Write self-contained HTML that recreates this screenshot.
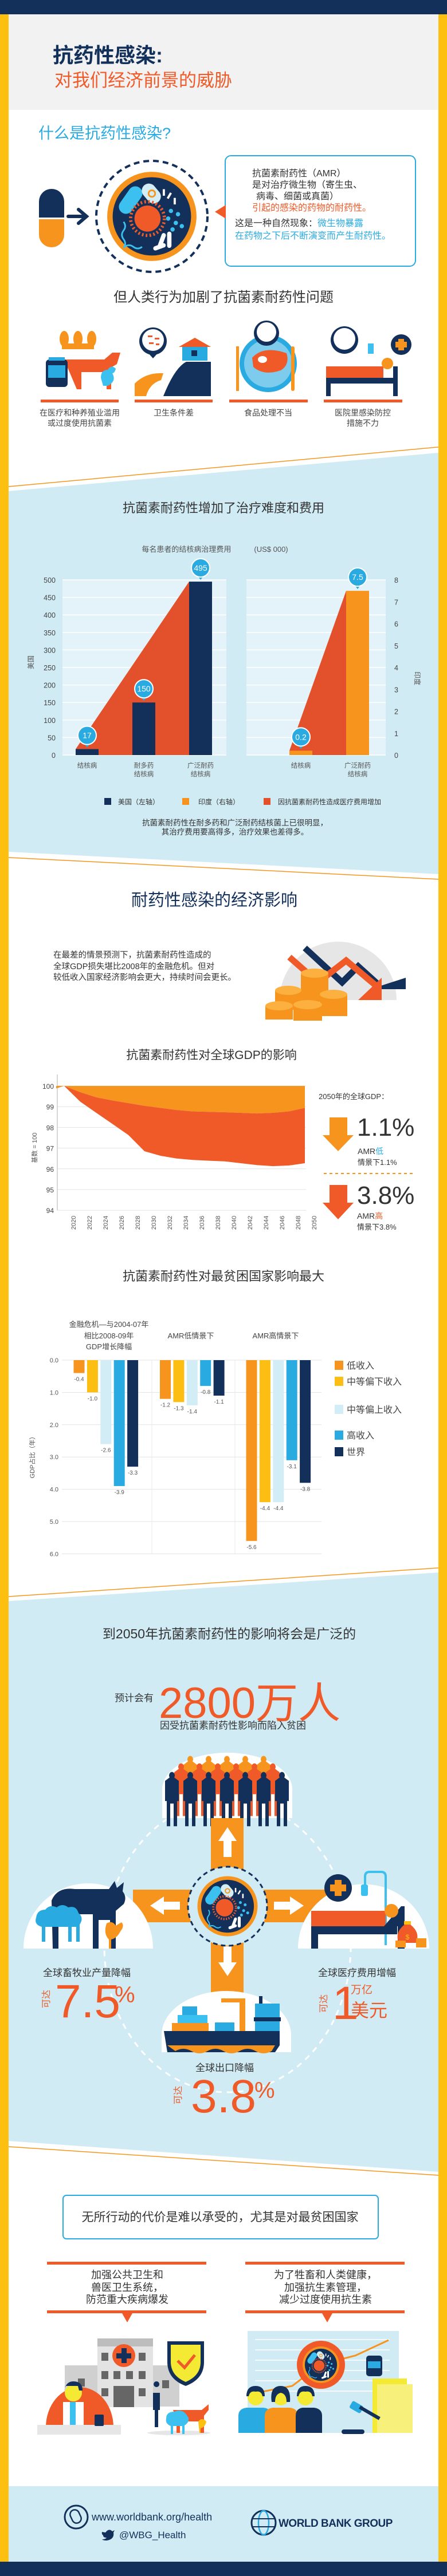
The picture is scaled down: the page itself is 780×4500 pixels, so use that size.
<!DOCTYPE html>
<html lang="zh">
<head>
<meta charset="utf-8">
<title>抗药性感染：对我们经济前景的威胁</title>
<style>
  html,body{margin:0;padding:0;background:#fff;}
  body{width:780px;height:4500px;overflow:hidden;}
  svg{display:block;font-family:"Liberation Sans","Noto Sans CJK SC",sans-serif;}
  .t{font-family:"Liberation Sans","Noto Sans CJK SC",sans-serif;}
</style>
</head>
<body>
<svg id="page" width="780" height="4500" viewBox="0 0 780 4500" xmlns="http://www.w3.org/2000/svg">
<defs>
  <symbol id="microbe" viewBox="-100 -100 200 200">
    <circle r="82" fill="#f7941d"/>
    <circle r="72" fill="#13305a"/>
    <rect x="-52" y="-58" width="26" height="56" rx="13" fill="#3cc0ef" transform="rotate(35 -39 -30)"/>
    <rect x="-14" y="-62" width="26" height="40" rx="13" fill="#d2edf5" transform="rotate(-40 -1 -42)"/>
    <circle cx="0" cy="-42" r="6" fill="none" stroke="#f7941d" stroke-width="3"/>
    <circle cx="-8" cy="4" r="24" fill="#f05a28"/>
    <circle cx="-8" cy="4" r="31" fill="none" stroke="#f05a28" stroke-width="6" stroke-dasharray="3 4"/>
    <g fill="#3cc0ef"><circle cx="35" cy="-10" r="4"/><circle cx="48" cy="-4" r="4"/><circle cx="30" cy="4" r="4"/><circle cx="44" cy="12" r="4"/><circle cx="55" cy="18" r="4"/><circle cx="38" cy="24" r="4"/></g>
    <g fill="#fff"><rect x="14" y="30" width="8" height="30" rx="4" transform="rotate(20 18 45)"/><rect x="28" y="28" width="8" height="30" rx="4"/><rect x="2" y="52" width="24" height="8" rx="4" transform="rotate(-20 14 56)"/><rect x="20" y="-50" width="4" height="12"/><rect x="30" y="-44" width="4" height="12" transform="rotate(30 32 -38)"/><rect x="40" y="-34" width="4" height="12"/></g>
    <path d="M-52 10 q6 8 0 16 q-6 8 0 16 q6 8 0 16" fill="none" stroke="#3cc0ef" stroke-width="3"/>
    <path d="M-50 56 q8 -6 16 0 q8 6 16 0" fill="none" stroke="#3cc0ef" stroke-width="3"/>
  </symbol>
</defs>

<!-- frame -->
<rect x="0" y="0" width="780" height="4500" fill="#ffffff"/>
<rect x="0" y="0" width="15" height="4500" fill="#fdc010"/>
<rect x="765" y="0" width="15" height="4500" fill="#fdc010"/>
<rect x="0" y="0" width="780" height="25" fill="#13305a"/>
<rect x="15" y="25" width="750" height="167" fill="#f2f2f2"/>

<!-- light blue sections -->
<polygon points="15,858 765,791 765,1527 15,1488" fill="#d0ebf4"/>
<line x1="15" y1="850" x2="765" y2="781" stroke="#f7941d" stroke-width="1.5"/>
<line x1="15" y1="1498" x2="765" y2="1536" stroke="#f7941d" stroke-width="1.5"/>
<polygon points="15,2797 765,2747 765,3794 15,3740" fill="#d0ebf4"/>
<line x1="15" y1="2789" x2="765" y2="2739" stroke="#f7941d" stroke-width="1.5"/>
<line x1="15" y1="3750" x2="765" y2="3800" stroke="#f7941d" stroke-width="1.5"/>
<rect x="15" y="4343" width="750" height="132" fill="#d0ebf4"/>
<rect x="0" y="4475" width="780" height="25" fill="#13305a"/>

<!-- header -->
<text x="92" y="109" font-size="36" font-weight="bold" fill="#13305a">抗药性感染:</text>
<text x="95" y="151" font-size="31" fill="#f05a28">对我们经济前景的威胁</text>

<text x="67" y="242" font-size="27" fill="#29abe2">什么是抗药性感染?</text>

<!-- pill + arrow + microbe -->
<g>
  <path d="M68,352 a22,22 0 0 1 44,0 V380 H68 Z" fill="#13305a"/>
  <path d="M68,383 H112 V410 a22,22 0 0 1 -44,0 Z" fill="#f7941d"/>
</g>
<g stroke="#13305a" stroke-width="6" fill="none" stroke-linecap="round">
  <line x1="119" y1="378" x2="148" y2="378"/><polyline points="137,366 151,378 137,390"/>
</g>
<circle cx="265" cy="378" r="97" fill="none" stroke="#13305a" stroke-width="4" stroke-dasharray="10 7"/>
<use href="#microbe" x="170" y="283" width="190" height="190"/>

<g>
  <rect x="393" y="272" width="332" height="193" rx="10" fill="#fff" stroke="#29abe2" stroke-width="2"/>
  <polygon points="375,370 394,358 394,382" fill="#f05a28"/>
  <text x="440" y="308" font-size="16" fill="#333">抗菌素耐药性（AMR）</text>
  <text x="440" y="328" font-size="16" fill="#333">是对治疗微生物（寄生虫、</text>
  <text x="447" y="348" font-size="16" fill="#333">病毒、细菌或真菌）</text>
  <text x="440" y="368" font-size="16" fill="#f05a28">引起的感染的药物的耐药性。</text>
  <text x="410" y="395" font-size="16" fill="#333">这是一种自然现象：<tspan fill="#29abe2">微生物暴露</tspan></text>
  <text x="410" y="417" font-size="16" fill="#29abe2">在药物之下后不断演变而产生耐药性。</text>
</g>

<text x="390" y="527" font-size="24" fill="#333" text-anchor="middle">但人类行为加剧了抗菌素耐药性问题</text>

<!-- four cause icons -->
<g>
  <g fill="#f7941d"><ellipse cx="112" cy="592" rx="8" ry="14"/><ellipse cx="136" cy="592" rx="8" ry="14"/><ellipse cx="160" cy="592" rx="8" ry="14"/><rect x="108" y="600" width="56" height="10"/></g>
  <path d="M112,628 h70 l14,-12 h14 l-6,20 l-10,6 v38 h-8 v-30 h-44 v30 h-8 z" fill="#f05a28"/>
  <rect x="80" y="628" width="38" height="48" rx="6" fill="#13305a"/><rect x="84" y="638" width="30" height="22" fill="#29abe2"/><rect x="85" y="624" width="28" height="6" fill="#29abe2"/>
  <path d="M176,660 q0,-14 12,-14 q6,-10 14,-2 q-2,8 -6,8 q8,14 -8,22 h-8 z" fill="#3cc0ef"/>
</g>
<g>
  <circle cx="267" cy="596" r="24" fill="#13305a"/><circle cx="267" cy="594" r="19" fill="#fff"/><polygon points="258,616 276,616 267,626" fill="#13305a"/>
  <g fill="#f05a28"><rect x="258" y="586" width="8" height="3"/><rect x="270" y="590" width="8" height="3"/><rect x="260" y="598" width="8" height="3"/><rect x="272" y="600" width="6" height="3"/></g>
  <polygon points="340,590 368,606 312,606" fill="#f05a28"/><rect x="318" y="606" width="44" height="24" fill="#29abe2"/><rect x="334" y="612" width="10" height="10" fill="#13305a"/>
  <path d="M285,692 q20,-50 40,-60 l43,0 v60 z" fill="#13305a"/>
  <path d="M235,692 v-22 q20,-20 50,-18 l-4,12 q-20,6 -26,28 z" fill="#f7941d"/>
</g>
<g>
  <circle cx="468" cy="635" r="50" fill="#29abe2"/><circle cx="468" cy="635" r="42" fill="#fff" opacity="0.4"/>
  <path d="M440,625 q20,-22 60,-8 q6,20 -10,30 q-30,10 -48,-6 z" fill="#f05a28"/><ellipse cx="458" cy="628" rx="8" ry="6" fill="#fff"/>
  <rect x="412" y="605" width="5" height="78" fill="#f7941d"/><rect x="508" y="605" width="6" height="78" rx="3" fill="#f7941d"/>
  <circle cx="465" cy="582" r="22" fill="#13305a"/><circle cx="465" cy="580" r="17" fill="#fff"/>
</g>
<g>
  <circle cx="601" cy="594" r="24" fill="#13305a"/><circle cx="601" cy="592" r="19" fill="#fff"/>
  <rect x="569" y="640" width="100" height="20" fill="#f05a28"/><rect x="569" y="660" width="125" height="10" fill="#13305a"/><rect x="569" y="660" width="8" height="32" fill="#13305a"/><rect x="686" y="640" width="8" height="52" fill="#13305a"/>
  <circle cx="676" cy="635" r="10" fill="#f7941d"/><rect x="642" y="600" width="10" height="18" fill="#3cc0ef"/>
  <circle cx="700" cy="602" r="18" fill="#13305a"/><rect x="695" y="592" width="10" height="20" fill="#f7941d"/><rect x="690" y="597" width="20" height="10" fill="#f7941d"/>
</g>
<g fill="#f05a28">
  <rect x="71" y="698" width="136" height="5"/><rect x="235" y="698" width="136" height="5"/><rect x="400" y="698" width="137" height="5"/><rect x="565" y="698" width="137" height="5"/>
</g>
<g font-size="14" fill="#444" text-anchor="middle">
  <text x="139" y="726">在医疗和种养殖业滥用</text><text x="139" y="744">或过度使用抗菌素</text>
  <text x="303" y="726">卫生条件差</text>
  <text x="468" y="726">食品处理不当</text>
  <text x="633" y="726">医院里感染防控</text><text x="633" y="744">措施不力</text>
</g>

<!-- TB cost chart -->
<text x="390" y="895" font-size="22" fill="#333" text-anchor="middle">抗菌素耐药性增加了治疗难度和费用</text>
<text x="375" y="964" font-size="13" fill="#555" text-anchor="middle">每名患者的结核病治理费用<tspan dx="40">(US$ 000)</tspan></text>
<g id="costChart"></g>
<text x="58" y="1157" font-size="12" fill="#555" text-anchor="middle" transform="rotate(-90 58 1157)">美国</text>
<text x="724" y="1185" font-size="12" fill="#555" text-anchor="middle" transform="rotate(90 724 1185)">印度</text>
<g font-size="12" fill="#333">
  <rect x="182" y="1394" width="12" height="12" fill="#13305a"/><text x="206" y="1405">美国（左轴）</text>
  <rect x="318" y="1394" width="12" height="12" fill="#f7941d"/><text x="346" y="1405">印度（右轴）</text>
  <rect x="460" y="1394" width="12" height="12" fill="#e2512b"/><text x="485" y="1405">因抗菌素耐药性造成医疗费用增加</text>
</g>
<text x="410" y="1442" font-size="13.5" fill="#333" text-anchor="middle">抗菌素耐药性在耐多药和广泛耐药结核菌上已很明显，</text>
<text x="410" y="1458" font-size="13.5" fill="#333" text-anchor="middle">其治疗费用要高得多，治疗效果也差得多。</text>

<!-- economic impact -->
<text x="374" y="1582" font-size="29" fill="#13305a" text-anchor="middle">耐药性感染的经济影响</text>
<g font-size="14.5" fill="#333">
  <text x="93" y="1673">在最差的情景预测下，抗菌素耐药性造成的</text>
  <text x="93" y="1693">全球GDP损失堪比2008年的金融危机。但对</text>
  <text x="93" y="1712">较低收入国家经济影响会更大，持续时间会更长。</text>
</g>
<g>
  <path d="M488,1747 a102,102 0 0 1 204,0 z" fill="#e6e6e6"/>
  <polyline points="532,1656 597,1716 625,1688 658,1718" fill="none" stroke="#13305a" stroke-width="11"/>
  <polygon points="646,1728 708,1728 708,1708" fill="#13305a"/>
  <polyline points="505,1672 555,1716 604,1678 660,1725" fill="none" stroke="#f05a28" stroke-width="11"/>
  <polygon points="625,1747 666,1747 666,1708" fill="#f05a28"/>
  <g fill="#f7941d"><rect x="525" y="1700" width="48" height="50"/><ellipse cx="549" cy="1700" rx="24" ry="8" fill="#fbb040"/>
  <rect x="480" y="1730" width="46" height="34"/><ellipse cx="503" cy="1730" rx="23" ry="8" fill="#fbb040"/>
  <rect x="558" y="1737" width="48" height="38"/><ellipse cx="582" cy="1737" rx="24" ry="8" fill="#fbb040"/>
  <rect x="512" y="1755" width="50" height="28"/><ellipse cx="537" cy="1755" rx="25" ry="8" fill="#fbb040"/>
  <rect x="463" y="1757" width="48" height="24"/><ellipse cx="487" cy="1757" rx="24" ry="8" fill="#fbb040"/></g>
</g>

<!-- GDP chart -->
<text x="369" y="1850" font-size="21" fill="#333" text-anchor="middle">抗菌素耐药性对全球GDP的影响</text>
<g id="gdpChart"></g>
<text x="64" y="2005" font-size="11" fill="#555" text-anchor="middle" transform="rotate(-90 64 2005)">基数 = 100</text>
<g>
  <text x="556" y="1920" font-size="13" fill="#333">2050年的全球GDP：</text>
  <polygon points="575,1952 606,1952 606,1983 617,1983 590,2011 563,1983 575,1983" fill="#f7941d"/>
  <text x="623" y="1984" font-size="44" fill="#333">1.1%</text>
  <text x="624" y="2016" font-size="14" fill="#333">AMR<tspan fill="#29abe2">低</tspan></text>
  <text x="624" y="2035" font-size="13" fill="#333">情景下1.1%</text>
  <line x1="565" y1="2050" x2="724" y2="2050" stroke="#f7941d" stroke-width="2" stroke-dasharray="5 5"/>
  <polygon points="575,2070 606,2070 606,2101 617,2101 590,2130 563,2101 575,2101" fill="#f05a28"/>
  <text x="623" y="2103" font-size="44" fill="#333">3.8%</text>
  <text x="623" y="2129" font-size="14" fill="#333">AMR<tspan fill="#f05a28">高</tspan></text>
  <text x="623" y="2148" font-size="13" fill="#333">情景下3.8%</text>
</g>

<!-- poorest countries bar chart -->
<text x="390" y="2237" font-size="22" fill="#333" text-anchor="middle">抗菌素耐药性对最贫困国家影响最大</text>
<g font-size="13" fill="#444" text-anchor="middle">
  <text x="190" y="2318">金融危机—与2004-07年</text>
  <text x="190" y="2338">相比2008-09年</text>
  <text x="190" y="2357">GDP增长降幅</text>
  <text x="333" y="2338">AMR低情景下</text>
  <text x="481" y="2338">AMR高情景下</text>
</g>
<g id="barChart"></g>
<text x="60" y="2543" font-size="11" fill="#555" text-anchor="middle" transform="rotate(-90 60 2543)">GDP占比（年）</text>
<g id="barLegend"></g>

<!-- broad impact section -->
<text x="400" y="2862" font-size="23" fill="#333" text-anchor="middle">到2050年抗菌素耐药性的影响将会是广泛的</text>
<text x="200" y="2972" font-size="17" fill="#333">预计会有</text>
<text x="277" y="3001" font-size="76" fill="#f05a28">2800<tspan font-size="74">万人</tspan></text>
<text x="279" y="3020" font-size="17" fill="#333">因受抗菌素耐药性影响而陷入贫困</text>

<ellipse cx="397" cy="3400" rx="215" ry="255" fill="none" stroke="#fff" stroke-width="3" stroke-dasharray="10 9"/>
<path d="M283,3176 v-50 a113,64 0 0 1 227,0 v50 z" fill="#fff"/>
<g id="people"></g>
<g fill="#f7941d">
  <rect x="368" y="3176" width="57" height="305"/>
  <rect x="232" y="3301" width="340" height="57"/>
</g>
<g fill="#fff">
  <polygon points="397,3192 413,3216 404,3216 404,3244 390,3244 390,3216 381,3216"/>
  <polygon points="397,3452 413,3428 404,3428 404,3400 390,3400 390,3428 381,3428"/>
  <polygon points="262,3329 286,3313 286,3322 314,3322 314,3336 286,3336 286,3345"/>
  <polygon points="530,3329 506,3313 506,3322 478,3322 478,3336 506,3336 506,3345"/>
</g>
<circle cx="397" cy="3330" r="69" fill="#d0ebf4" stroke="#13305a" stroke-width="3" stroke-dasharray="8 6"/>
<use href="#microbe" x="333" y="3266" width="128" height="128"/>
<g>
  <path d="M41,3404 a113,114 0 0 1 226,0 z" fill="#fff"/>
  <path d="M90,3320 q10,-24 40,-20 h60 l10,-14 l4,12 l12,-10 l-2,16 q8,10 2,22 l-14,12 v66 h-10 v-50 h-20 v50 h-10 v-60 h-60 v60 h-10 z" fill="#13305a"/>
  <path d="M63,3350 q2,-14 16,-14 q8,-10 20,-4 q10,-8 20,0 q14,-4 18,10 q10,8 2,20 v30 h-6 v-26 h-8 v26 h-6 v-26 h-40 v26 h-6 v-26 q-14,-4 -10,-16 z" fill="#29abe2"/>
  <path d="M186,3360 q10,-6 16,4 l10,-6 q6,6 -2,16 q-6,12 -16,14 v16 h-4 v-16 q-10,-10 -4,-28 z" fill="#f7941d"/>
</g>
<g>
  <path d="M520,3404 a114,112 0 0 1 229,0 z" fill="#fff"/>
  <circle cx="590" cy="3298" r="24" fill="#13305a"/><rect x="584" y="3284" width="12" height="28" fill="#f7941d"/><rect x="576" y="3292" width="28" height="12" fill="#f7941d"/>
  <path d="M637,3296 v-18 q0,-8 8,-8 h20 q8,0 8,8 v120" fill="none" stroke="#3cc0ef" stroke-width="4"/>
  <rect x="630" y="3292" width="12" height="20" rx="3" fill="#3cc0ef"/>
  <rect x="543" y="3338" width="130" height="27" fill="#f05a28"/>
  <rect x="543" y="3365" width="150" height="14" fill="#13305a"/><rect x="543" y="3365" width="12" height="39" fill="#13305a"/>
  <polygon points="670,3365 700,3330 706,3330 706,3404 694,3404 694,3365" fill="#13305a"/>
  <circle cx="683" cy="3338" r="12" fill="#f7941d"/>
  <path d="M706,3362 q-18,14 -10,32 h30 q8,-18 -10,-32 z" fill="#f05a28"/><rect x="705" y="3356" width="12" height="6" fill="#fdc010"/>
  <text x="711" y="3388" font-size="12" fill="#fdc010" text-anchor="middle">$</text>
  <g fill="#f7941d"><rect x="690" y="3390" width="18" height="12"/><rect x="726" y="3386" width="18" height="16"/></g>
</g>
<g>
  <path d="M282,3585 v-30 a113,77 0 0 1 226,0 v30 z" fill="#fff"/>
  <path d="M286,3548 h202 v25 l-8,12 h-188 z" fill="#13305a"/>
  <path d="M292,3573 h188 l-6,10 q-14,8 -28,0 q-14,-8 -28,0 q-14,8 -28,0 q-14,-8 -28,0 q-14,8 -28,0 q-14,-8 -28,0 z" fill="#f7941d"/>
  <rect x="300" y="3534" width="64" height="14" fill="#f7941d"/><rect x="310" y="3520" width="52" height="14" fill="#3cc0ef"/><rect x="318" y="3505" width="26" height="15" fill="#29abe2"/>
  <rect x="375" y="3533" width="34" height="15" fill="#29abe2"/>
  <rect x="418" y="3493" width="10" height="55" fill="#f7941d"/><rect x="386" y="3491" width="42" height="7" fill="#f7941d"/>
  <rect x="445" y="3500" width="43" height="48" fill="#29abe2"/><rect x="443" y="3524" width="47" height="7" fill="#13305a"/><rect x="452" y="3487" width="6" height="13" fill="#13305a"/>
</g>
<g>
  <text x="75" y="3452" font-size="17" fill="#333">全球畜牧业产量降幅</text>
  <text x="86" y="3492" font-size="16" fill="#f05a28" text-anchor="middle" transform="rotate(-90 86 3492)">可达</text>
  <text x="96" y="3524" font-size="82" fill="#f05a28">7.5</text>
  <text x="200" y="3498" font-size="40" fill="#f05a28">%</text>
</g>
<g>
  <text x="555" y="3452" font-size="17" fill="#333">全球医疗费用增幅</text>
  <text x="570" y="3500" font-size="16" fill="#f05a28" text-anchor="middle" transform="rotate(-90 570 3500)">可达</text>
  <text x="580" y="3527" font-size="82" fill="#f05a28">1</text>
  <text x="612" y="3482" font-size="19" fill="#f05a28">万亿</text>
  <text x="612" y="3523" font-size="32" fill="#f05a28">美元</text>
</g>
<g>
  <text x="392" y="3618" font-size="17" fill="#333" text-anchor="middle">全球出口降幅</text>
  <text x="316" y="3660" font-size="16" fill="#f05a28" text-anchor="middle" transform="rotate(-90 316 3660)">可达</text>
  <text x="333" y="3690" font-size="82" fill="#f05a28">3.8</text>
  <text x="444" y="3665" font-size="40" fill="#f05a28">%</text>
</g>

<!-- call to action -->
<rect x="110" y="3835" width="550" height="76" rx="6" fill="#fff" stroke="#29abe2" stroke-width="2"/>
<text x="384" y="3880" font-size="21" fill="#333" text-anchor="middle">无所行动的代价是难以承受的，尤其是对最贫困国家</text>

<g>
  <rect x="82" y="3951" width="278" height="5" fill="#f05a28"/>
  <text x="222" y="3980" font-size="18" fill="#333" text-anchor="middle">加强公共卫生和</text>
  <text x="222" y="4002" font-size="18" fill="#333" text-anchor="middle">兽医卫生系统，</text>
  <text x="222" y="4023" font-size="18" fill="#333" text-anchor="middle">防范重大疾病爆发</text>
  <rect x="82" y="4036" width="278" height="5" fill="#f05a28"/>
  <polygon points="213,4041 231,4041 222,4057" fill="#f05a28"/>
</g>
<g>
  <rect x="428" y="3951" width="278" height="5" fill="#f05a28"/>
  <text x="568" y="3980" font-size="18" fill="#333" text-anchor="middle">为了牲畜和人类健康，</text>
  <text x="568" y="4002" font-size="18" fill="#333" text-anchor="middle">加强抗生素管理，</text>
  <text x="568" y="4023" font-size="18" fill="#333" text-anchor="middle">减少过度使用抗生素</text>
  <rect x="428" y="4036" width="278" height="5" fill="#f05a28"/>
  <polygon points="562,4041 580,4041 571,4057" fill="#f05a28"/>
</g>

<g>
  <rect x="113" y="4132" width="200" height="72" fill="#d0d0d0"/>
  <rect x="170" y="4085" width="97" height="120" fill="#e3e3e3"/><rect x="170" y="4085" width="97" height="14" fill="#bdbdbd"/>
  <circle cx="216" cy="4115" r="20" fill="#f05a28"/><rect x="212" y="4102" width="9" height="26" fill="#13305a"/><rect x="203" y="4111" width="26" height="9" fill="#13305a"/>
  <g fill="#666"><rect x="177" y="4110" width="12" height="14"/><rect x="242" y="4110" width="12" height="14"/><rect x="177" y="4142" width="12" height="14"/><rect x="198" y="4142" width="12" height="14"/><rect x="220" y="4142" width="12" height="14"/><rect x="242" y="4142" width="12" height="14"/><rect x="198" y="4168" width="36" height="37"/><rect x="177" y="4172" width="12" height="14"/><rect x="242" y="4172" width="12" height="14"/><rect x="136" y="4155" width="12" height="14"/><rect x="283" y="4158" width="12" height="14"/></g>
  <path d="M292,4090 h64 v36 q0,30 -32,42 q-32,-12 -32,-42 z" fill="#13305a"/>
  <path d="M298,4096 h52 v30 q0,24 -26,35 q-26,-11 -26,-35 z" fill="#f4ea34"/>
  <polyline points="310,4124 322,4136 340,4114" fill="none" stroke="#f05a28" stroke-width="5"/>
  <path d="M80,4240 a59,70 0 0 1 118,0 z" fill="#f05a28"/>
  <rect x="65" y="4236" width="146" height="17" fill="#e6e6e6"/>
  <circle cx="128" cy="4180" r="15" fill="#f4ea34"/><path d="M112,4178 q2,-18 16,-18 q16,0 16,16 h-6 l-2,-8 h-22 z" fill="#13305a"/>
  <rect x="110" y="4196" width="36" height="40" fill="#fff"/><rect x="122" y="4196" width="10" height="40" fill="#3cc0ef"/>
  <rect x="165" y="4218" width="16" height="20" rx="2" fill="#13305a"/>
  <ellipse cx="312" cy="4250" rx="55" ry="4" fill="#e6e6e6"/>
  <path d="M273,4170 a5,5 0 1 1 0.1,0 M267,4180 h12 v30 h-3 v30 h-6 v-30 h-3 z" fill="#13305a"/>
  <path d="M302,4210 h50 l12,-10 v10 l-8,10 v30 h-6 v-20 h-36 v20 h-6 v-20 z" fill="#f05a28"/>
  <path d="M290,4225 q0,-12 14,-12 q14,-6 22,6 q8,10 -4,18 v15 h-4 v-14 h-16 v14 h-4 v-14 q-10,-4 -8,-13 z" fill="#3cc0ef"/>
  <path d="M346,4230 q6,-8 14,0 q-2,10 -10,12 v8 h-2 z" fill="#fdc010"/>
</g>
<g>
  <rect x="432" y="4072" width="264" height="178" fill="#d0ebf4"/>
  <g stroke="#fff" stroke-width="1.5"><line x1="445" y1="4087" x2="680" y2="4087"/><line x1="445" y1="4105" x2="680" y2="4105"/><line x1="445" y1="4123" x2="680" y2="4123"/><line x1="445" y1="4141" x2="680" y2="4141"/><line x1="445" y1="4159" x2="680" y2="4159"/><line x1="445" y1="4177" x2="680" y2="4177"/></g>
  <polyline points="458,4178 510,4168 560,4130 620,4115 678,4088" fill="none" stroke="#f7941d" stroke-width="3"/>
  <circle cx="560" cy="4131" r="42" fill="#f05a28"/>
  <use href="#microbe" x="521" y="4092" width="78" height="78"/>
  <rect x="639" y="4115" width="28" height="36" rx="5" fill="#13305a"/><rect x="642" y="4125" width="22" height="12" fill="#29abe2"/>
  <path d="M416,4250 v-30 q0,-12 14,-14 h30 q14,2 14,14 v30 z" fill="#29abe2"/>
  <path d="M462,4250 v-30 q0,-12 14,-14 h30 q14,2 14,14 v30 z" fill="#f7941d"/>
  <path d="M516,4250 v-30 q0,-12 12,-14 h20 q14,2 14,14 v30 z" fill="#13305a"/>
  <circle cx="446" cy="4188" r="14" fill="#f4ea34"/><path d="M430,4186 q0,-18 16,-18 q16,0 16,18 h-4 q-2,-10 -12,-8 q-10,-2 -12,8 z" fill="#13305a"/>
  <circle cx="490" cy="4188" r="14" fill="#f4ea34"/><path d="M474,4196 q-4,-28 16,-28 q18,0 16,28 h-6 q0,-14 -10,-16 q-10,2 -10,16 z" fill="#13305a"/>
  <circle cx="533" cy="4188" r="14" fill="#f4ea34"/><path d="M518,4186 q0,-18 15,-18 q16,0 16,18 h-4 q-2,-10 -12,-8 q-10,-2 -12,8 z" fill="#13305a"/>
  <rect x="650" y="4155" width="60" height="95" fill="#f4ea34"/><rect x="658" y="4165" width="62" height="85" fill="#f7f07a"/>
  <rect x="611" y="4198" width="22" height="14" rx="3" fill="#29abe2" transform="rotate(30 622 4205)"/>
  <rect x="625" y="4212" width="40" height="6" fill="#13305a" transform="rotate(30 645 4215)"/>
  <rect x="596" y="4244" width="40" height="8" rx="4" fill="#13305a"/>
</g>

<!-- footer -->
<g>
  <circle cx="133" cy="4397" r="20" fill="none" stroke="#13305a" stroke-width="3"/>
  <rect x="124" y="4384" width="16" height="24" rx="8" fill="none" stroke="#13305a" stroke-width="2.5" transform="rotate(-25 132 4396)"/>
  <text x="160" y="4403" font-size="18" fill="#13305a">www.worldbank.org/health</text>
</g>
<g>
  <path d="M184,4424 q6,-8 12,-2 l4,-2 l-2,4 q2,12 -12,14 q-6,0 -8,-2 q6,0 8,-3 q-6,0 -6,-4 q-3,-2 -2,-6 z" fill="#13305a"/>
  <text x="208" y="4434" font-size="17" fill="#13305a">@WBG_Health</text>
</g>
<g>
  <circle cx="460" cy="4407" r="21" fill="none" stroke="#13305a" stroke-width="3"/>
  <ellipse cx="460" cy="4407" rx="9" ry="21" fill="none" stroke="#29abe2" stroke-width="2.5"/>
  <line x1="439" y1="4400" x2="481" y2="4400" stroke="#13305a" stroke-width="2"/><line x1="440" y1="4414" x2="480" y2="4414" stroke="#13305a" stroke-width="2"/>
  <text x="486" y="4414" font-size="19" font-weight="bold" fill="#13305a" letter-spacing="-0.5">WORLD BANK GROUP</text>
</g>
</svg>

<script>
var NS = 'http://www.w3.org/2000/svg';
function mk(parent, tag, attrs, txt) {
  var e = document.createElementNS(NS, tag);
  for (var k in attrs) e.setAttribute(k, attrs[k]);
  if (txt !== undefined) e.textContent = txt;
  parent.appendChild(e);
  return e;
}

/* ---------- Chart 1: TB treatment cost ---------- */
var usCategories = ['结核病', '耐多药|结核病', '广泛耐药|结核病'];
var usValues = [17, 150, 495];
var indiaCategories = ['结核病', '广泛耐药|结核病'];
var indiaValues = [0.2, 7.5];
var usTicks = [0, 50, 100, 150, 200, 250, 300, 350, 400, 450, 500];
var indiaTicks = [0, 1, 2, 3, 4, 5, 6, 7, 8];

(function () {
  var g = document.getElementById('costChart');
  var top = 1013, bottom = 1319;
  function yL(v) { return bottom - v / 500 * (bottom - top); }
  function yR(v) { return bottom - v / 8 * (bottom - top); }
  var lx0 = 109, lx1 = 395, rx0 = 430, rx1 = 673;
  var bg1 = mk(g, 'rect', {x: lx0, y: top, width: lx1 - lx0, height: bottom - top, fill: '#e4f3fa'});
  
  
  var bg2 = mk(g, 'rect', {x: rx0, y: top, width: rx1 - rx0, height: bottom - top, fill: '#e4f3fa'});
  
  
  usTicks.forEach(function (t) {
    var gl = mk(g, 'line', {x1: lx0, x2: lx1, y1: yL(t), y2: yL(t), stroke: '#fff', 'stroke-width': 1.5});
    
    
    var gl2 = mk(g, 'line', {x1: rx0, x2: rx1, y1: yL(t), y2: yL(t), stroke: '#fff', 'stroke-width': 1.5});
    
    
    var tl = mk(g, 'text', {x: 97, y: yL(t) + 5, 'font-size': 12.5, fill: '#444', 'text-anchor': 'end'}, String(t));
    
    
  });
  indiaTicks.forEach(function (t) {
    var tl = mk(g, 'text', {x: 688, y: yR(t) + 5, 'font-size': 12.5, fill: '#444'}, String(t));
    
    
  });
  var bw = 40;
  var usX = usValues.map(function (v, i) { return 132 + i * 99; });
  var inX = indiaValues.map(function (v, i) { return 505 + i * 99; });
  var tri1 = mk(g, 'polygon', {points: [usX[0] + ',' + bottom, usX[0] + ',' + yL(usValues[0]), usX[2] + ',' + yL(usValues[2]), usX[2] + ',' + bottom].join(' '), fill: '#e2512b'});
  
  
  var tri2 = mk(g, 'polygon', {points: [inX[0] + ',' + bottom, inX[0] + ',' + yR(indiaValues[0]), inX[1] + ',' + yR(indiaValues[1]), inX[1] + ',' + bottom].join(' '), fill: '#e2512b'});
  
  
  function bubble(cx, ytop, label) {
    var cy = ytop - 24;
    var p = mk(g, 'polygon', {points: (cx - 5) + ',' + (cy + 14) + ' ' + (cx + 5) + ',' + (cy + 14) + ' ' + cx + ',' + (cy + 21), fill: '#29abe2'});
    
    
    var c = mk(g, 'circle', {cx: cx, cy: cy, r: 16, fill: '#29abe2', stroke: '#fff', 'stroke-width': 2});
    
    
    var t = mk(g, 'text', {x: cx, y: cy + 5, 'font-size': 14, fill: '#fff', 'text-anchor': 'middle'}, label);
    
    
  }
  function catLabel(cx, txt) {
    txt.split('|').forEach(function (line, j) {
      var t = mk(g, 'text', {x: cx, y: 1341 + j * 15, 'font-size': 11.5, fill: '#555', 'text-anchor': 'middle'}, line);
      
      
    });
  }
  usValues.forEach(function (v, i) {
    var r = mk(g, 'rect', {x: usX[i], y: yL(v), width: bw, height: bottom - yL(v), fill: '#13305a'});
    
    
    bubble(usX[i] + bw / 2, yL(v), String(v));
    catLabel(usX[i] + bw / 2, usCategories[i]);
  });
  indiaValues.forEach(function (v, i) {
    var r = mk(g, 'rect', {x: inX[i], y: yR(v), width: bw, height: bottom - yR(v), fill: '#f7941d'});
    
    
    bubble(inX[i] + bw / 2, yR(v), String(v));
    catLabel(inX[i] + bw / 2, indiaCategories[i]);
  });
})();

/* ---------- Chart 2: global GDP ---------- */
var gdpYears = [2019, 2020, 2022, 2024, 2026, 2028, 2030, 2032, 2034, 2036, 2038, 2040, 2042, 2044, 2046, 2048, 2050];
var gdpLowAmr = [99.88, 100, 99.7, 99.45, 99.3, 99.17, 99.04, 98.94, 98.84, 98.77, 98.75, 98.73, 98.7, 98.67, 98.7, 98.77, 98.94];
var gdpHighAmr = [99.88, 100, 99.24, 98.7, 98.17, 97.63, 96.85, 96.63, 96.5, 96.43, 96.39, 96.36, 96.27, 96.18, 96.13, 96.16, 96.27];
var gdpYTicks = [94, 95, 96, 97, 98, 99, 100];
var gdpXTicks = [2020, 2022, 2024, 2026, 2028, 2030, 2032, 2034, 2036, 2038, 2040, 2042, 2044, 2046, 2048, 2050];

(function () {
  var g = document.getElementById('gdpChart');
  function xG(yr) { return 112 + (yr - 2020) * 14; }
  function yG(v) { return 1897 + (100 - v) * 36.2; }
  gdpYTicks.forEach(function (t) {
    var l = mk(g, 'line', {x1: 100, x2: 534, y1: yG(t), y2: yG(t), stroke: '#e3e3e3', 'stroke-width': 1});
    
    
    var tl = mk(g, 'text', {x: 94, y: yG(t) + 5, 'font-size': 12, fill: '#444', 'text-anchor': 'end'}, String(t));
    
    
  });
  var ax = mk(g, 'line', {x1: 100, x2: 100, y1: 1877, y2: yG(94), stroke: '#ccc', 'stroke-width': 1.5});
  
  
  var first = gdpYears[0], last = gdpYears[gdpYears.length - 1];
  var lowPts = gdpYears.map(function (yr, i) { return xG(yr) + ',' + yG(gdpLowAmr[i]); });
  var highPts = gdpYears.map(function (yr, i) { return xG(yr) + ',' + yG(gdpHighAmr[i]); });
  var lowArea = mk(g, 'polygon', {points: [xG(first) + ',' + yG(100), xG(last) + ',' + yG(100)].concat(lowPts.slice().reverse()).join(' '), fill: '#f7941d'});
  
  
  var highArea = mk(g, 'polygon', {points: lowPts.concat(highPts.slice().reverse()).join(' '), fill: '#f05a28'});
  
  
  gdpXTicks.forEach(function (yr) {
    var x = xG(yr) + 4, y = 2152;
    var t = mk(g, 'text', {x: x, y: y, 'font-size': 11, fill: '#555', 'text-anchor': 'middle', transform: 'rotate(-90 ' + x + ' ' + (y - 16) + ')'}, String(yr));
    
    
  });
})();

/* ---------- Chart 3: GDP loss by income group ---------- */
var barGroups = ['金融危机', 'AMR低情景下', 'AMR高情景下'];
var seriesNames = ['低收入', '中等偏下收入', '中等偏上收入', '高收入', '世界'];
var lowIncome = [-0.4, -1.2, -5.6];
var lowerMiddle = [-1.0, -1.3, -4.4];
var upperMiddle = [-2.6, -1.4, -4.4];
var highIncome = [-3.9, -0.8, -3.1];
var worldValues = [-3.3, -1.1, -3.8];
var barTicks = ['0.0', '1.0', '2.0', '3.0', '4.0', '5.0', '6.0'];
var seriesColors = ['#f7941d', '#fdbe13', '#d2edf5', '#29abe2', '#13305a'];

(function () {
  var g = document.getElementById('barChart');
  function yB(v) { return 2376 + Math.abs(v) * 56.4; }
  barTicks.forEach(function (t) {
    var l = mk(g, 'line', {x1: 108, x2: 561, y1: yB(+t), y2: yB(+t), stroke: '#e3e3e3', 'stroke-width': 1});
    
    
    var tl = mk(g, 'text', {x: 102, y: yB(+t) + 4, 'font-size': 11, fill: '#555', 'text-anchor': 'end'}, t);
    
    
  });
  [265, 410].forEach(function (x) {
    var s = mk(g, 'line', {x1: x, x2: x, y1: 2376, y2: 2714, stroke: '#e8e8e8', 'stroke-width': 1});
    
    
  });
  var series = [lowIncome, lowerMiddle, upperMiddle, highIncome, worldValues];
  barGroups.forEach(function (grp, gi) {
    series.forEach(function (vals, si) {
      var v = vals[gi];
      var cx = 138 + gi * 150.5 + si * 23.4;
      var r = mk(g, 'rect', {x: cx - 9.5, y: 2376, width: 19, height: yB(v) - 2376, fill: seriesColors[si]});
      
      
      var t = mk(g, 'text', {x: cx, y: yB(v) + 14, 'font-size': 10, fill: '#555', 'text-anchor': 'middle'}, v.toFixed(1));
      
      
    });
  });
  var lg = document.getElementById('barLegend');
  var legendY = [2385, 2413, 2462, 2507, 2536];
  seriesNames.forEach(function (name, i) {
    var sq = mk(lg, 'rect', {x: 584, y: legendY[i] - 8, width: 15, height: 16, fill: seriesColors[i]});
    
    
    var t = mk(lg, 'text', {x: 605, y: legendY[i] + 6, 'font-size': 16, fill: '#444'}, name);
    
    
  });
})();

/* ---------- people crowd (decoration) ---------- */
(function () {
  var g = document.getElementById('people');
  function person(cx, topY, h, color) {
    var p = mk(g, 'path', {d: 'M' + (cx - 4) + ',' + (topY + 10) + ' a5,6 0 1 1 8,0 l8,6 v' + (h * 0.4) + ' h-3 v' + (h * 0.5) + ' h-6 v-' + (h * 0.45) + ' h-6 v' + (h * 0.45) + ' h-6 v-' + (h * 0.5) + ' h-3 v-' + (h * 0.4) + ' z', fill: color});
    
    
  }
  var i;
  for (i = 0; i < 5; i++) person(332 + i * 32, 3067, 60, '#f7941d');
  for (i = 0; i < 6; i++) person(316 + i * 32, 3080, 85, '#f05a28');
  for (i = 0; i < 7; i++) person(300 + i * 32, 3095, 88, '#13305a');
})();
</script>
</body>
</html>
